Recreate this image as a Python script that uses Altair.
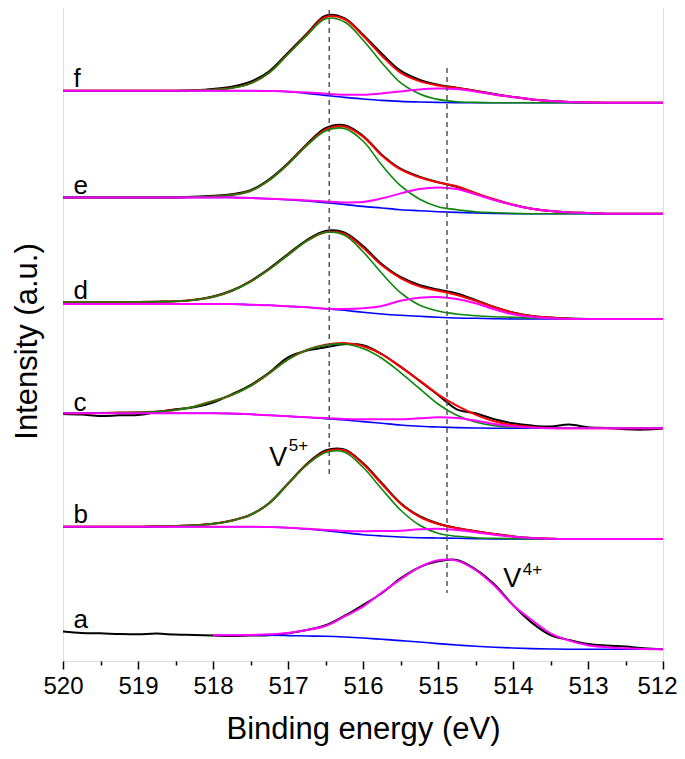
import altair as alt
import pandas as pd

# ---------------- data ----------------
energy = [520, 519.75, 519.5, 519.25, 519, 518.75, 518.5, 518.25, 518, 517.75,
          517.5, 517.25, 517, 516.75, 516.5, 516.25, 516, 515.75, 515.5, 515.25,
          515, 514.75, 514.5, 514.25, 514, 513.75, 513.5, 513.25, 513, 512.75,
          512.5, 512.25, 512]

samples = ["a", "b", "c", "d", "e", "f"]
offsets = [11.7, 122, 232.7, 342, 447.3, 558.3]   # vertical stacking offset (a.u.)

N = None
# raw spectra (black)
raw = {
    "a": [17.7, 16.3, 16, 15.3, 15, 15.7, 14.7, 14.3, 13.7, 13.3, 13.7, 14, 16, 19.3, 24, 33.3,
          44.3, 56, 71, 82, 88, 89.3, 80, 65, 44.3, 26.7, 14.3, 9.3, 5.3, 3.7, 2.7, 1, 0],
    "b": [12.3, 12.3, 12.3, 12.3, 12.3, 12.7, 13, 13.7, 15.3, 18.5, 24.3, 36, 55.5, 75, 88.5, 89.5,
          76, 56, 36, 23, 15.5, 11, 7.7, 5, 2.6, 1, 0.3, 0, 0, 0, 0, 0, 0],
    "c": [14.3, 13.7, 12.3, 13, 13.3, 16.3, 19, 21, 25.7, 34, 43.3, 55.7, 71, 77.7, 81, 84,
          83, 74.3, 61.7, 47.7, 33.3, 19, 15, 9, 5, 2.7, 1.7, 3.7, 1, 0.3, -1, -1.3, -0.3],
    "d": [17, 17, 17, 17, 17, 17.3, 17.7, 19.3, 22.5, 28.5, 38, 50.5, 65, 79, 88, 86.5,
          73, 55, 42, 34, 29.5, 25.5, 19, 12, 6.5, 3, 1.4, 0.5, 0, 0, 0, 0, 0],
    "e": [16.3, 16.3, 16.3, 16.3, 16.3, 16.3, 16.3, 17, 18, 19.5, 23.5, 34.5, 50.5, 69.5, 85.5, 88.5,
          78, 59, 45, 37, 31.5, 27, 20.5, 14, 9, 5, 2.7, 1.3, 0.7, 0, 0, 0, 0],
    "f": [12, 12, 12, 12, 12, 12, 12, 12.5, 13.7, 16, 21, 31.5, 50, 69, 87, 84.5,
          68, 49, 32, 23, 18, 15, 12, 8.7, 5.8, 3.3, 1.7, 0.7, 0.3, 0, 0, 0, 0],
}
# Shirley background (blue)
background = {
    "a": [N, N, N, N, N, N, N, N, 14, 14, 14, 14, 13.7, 13.3, 13, 12.3,
          11.3, 10, 8.7, 7.3, 5.7, 4.3, 3, 2, 1.3, 0.7, 0.3, 0, 0, 0, 0, 0, 0],
    "b": [12.3, 12.3, 12.3, 12.3, 12.3, 12.3, 12.3, 12.3, 12.3, 12.3, 12.3, 12, 11.3, 10, 8.3, 6.3,
          4.3, 3, 2, 1.3, 1, 0.7, 0.3, 0, 0, 0, 0, 0, 0, 0, 0, 0, 0],
    "c": [15, 15, 15, 15, 15, 15, 15, 15, 15, 14.7, 14, 13, 12, 11, 9.7, 8.3,
          6.7, 5, 3.3, 2, 1.3, 0.7, 0.3, 0, 0, 0, 0, 0, 0, 0, 0, 0, 0],
    "d": [15, 15, 15, 15, 15, 15, 15, 15, 15, 15, 14.3, 13.7, 12.7, 11.7, 10.3, 8.7,
          6.7, 5, 3.7, 2.7, 1.7, 1, 0.7, 0.3, 0, 0, 0, 0, 0, 0, 0, 0, 0],
    "e": [16.3, 16.3, 16.3, 16.3, 16.3, 16.3, 16.3, 16.3, 16.3, 16.3, 15.7, 15, 14, 12.7, 11, 9.3,
          7.3, 5.7, 4, 3, 2, 1.3, 0.7, 0.3, 0, 0, 0, 0, 0, 0, 0, 0, 0],
    "f": [12, 12, 12, 12, 12, 12, 12, 12, 12, 12, 12, 11.7, 11, 9.3, 7.3, 5.3,
          3.7, 2.3, 1.3, 0.7, 0.3, 0, 0, 0, 0, 0, 0, 0, 0, 0, 0, 0, 0],
}
# V5+ component incl. background (green)
v5 = {
    "a": None,
    "b": [12.3, 12.3, 12.3, 12.3, 12.3, 12.7, 13, 13.7, 15.3, 18.3, 24, 35.7, 55, 74, 86.5, 87,
          71.7, 50, 29, 14, 5.7, 2.7, 1.3, 0.7, 0.3, 0, 0, 0, 0, 0, 0, 0, 0],
    "c": [15, 15, 15.3, 15.7, 16, 16.7, 18.3, 21.7, 27.3, 33.3, 42.3, 55, 69, 78.3, 83, 84.3,
          79.7, 70, 55.7, 40, 24.3, 13, 6.3, 2.7, 1.3, 0.7, 0.3, 0, 0, 0, 0, 0, 0],
    "d": [17, 17, 17, 17, 17, 17.3, 17.7, 19, 22, 28, 37.3, 49.7, 64, 78, 86.7, 84,
          67.3, 45.7, 26.3, 14, 8, 5, 3.3, 2.3, 1.7, 1, 0.7, 0.3, 0, 0, 0, 0, 0],
    "e": [16.3, 16.3, 16.3, 16.3, 16.3, 16.3, 16.3, 16.7, 17.3, 18.7, 22.7, 33.5, 49.3, 68, 82.7, 85.3,
          72.7, 48.7, 28, 14.7, 7, 4, 2, 1, 0.3, 0, 0, 0, 0, 0, 0, 0, 0],
    "f": [12, 12, 12, 12, 12, 12, 12, 12.3, 13, 14.7, 19.3, 30, 48.5, 67, 84, 81,
          62.7, 40, 20, 9, 3.3, 1, 0.3, 0, 0, 0, 0, 0, 0, 0, 0, 0, 0],
}
# V4+ component incl. background (magenta)
v4 = {
    "a": [N, N, N, N, N, N, N, N, 14, 14, 14.3, 15, 16.3, 19.3, 23.3, 32.7,
          42.7, 56.7, 70, 82, 89, 88.7, 79.3, 63.7, 44, 29.3, 16, 8.7, 4, 2, 1, 0.3, 0],
    "b": [12.3, 12.3, 12.3, 12.3, 12.3, 12.3, 12.3, 12.3, 12.3, 12.3, 12.3, 12, 11.3, 10.3, 9, 8,
          7.7, 8, 8.3, 9.7, 10.3, 9, 6.7, 4.3, 2.3, 1, 0.3, 0, 0, 0, 0, 0, 0],
    "c": [15, 15, 15, 15, 15, 15, 15, 15, 15, 14.7, 14, 13, 12, 11, 10.3, 9.3,
          9, 9, 9, 10, 11, 10.3, 7.7, 4.3, 2, 0.7, 0, 0, 0, 0, 0, 0, 0],
    "d": [15, 15, 15, 15, 15, 15, 15, 15, 15, 15, 14.3, 13.7, 12.7, 11.7, 10.3, 10,
          10.7, 13, 18.3, 21.3, 22, 20, 15.7, 9.7, 4.7, 2, 0.7, 0, 0, 0, 0, 0, 0],
    "e": [16.3, 16.3, 16.3, 16.3, 16.3, 16.3, 16.3, 16.3, 16.3, 16.3, 15.7, 15, 14.3, 13.3, 12.3, 11.3,
          11.7, 15.3, 20.3, 24.7, 26.3, 24.7, 19.3, 13.7, 8.7, 5, 2.7, 1.3, 0.7, 0, 0, 0, 0],
    "f": [12, 12, 12, 12, 12, 12, 12, 12, 12, 12, 12, 11.7, 11.3, 10.3, 9, 8,
          8, 9.3, 11.3, 13.3, 14.3, 13.7, 11.3, 8.3, 5.7, 3.3, 1.7, 0.7, 0.3, 0, 0, 0, 0],
}

# reference dashed lines (eV, top, bottom in a.u.)
dash_energy = [516.45, 514.88]
dash_top = [651, 593]
dash_bottom = [183, 68]

# oxidation-state annotations
ann_text = ["V", "5+", "V", "4+"]
ann_energy = [517.25, 516.99, 514.13, 513.87]
ann_intensity = [195, 210, 74, 86]
ann_size = ["big", "small", "big", "small"]

all_ticks = [520, 519.5, 519, 518.5, 518, 517.5, 517, 516.5, 516, 515.5, 515,
             514.5, 514, 513.5, 513, 512.5, 512]

# ---------------- build long table ----------------
rows = []
for s, off in zip(samples, offsets):
    curves = {"raw": raw[s], "bg": background[s], "v4": v4[s]}
    if v5[s] is not None:
        curves["v5"] = v5[s]
        curves["fit"] = [a + b - c for a, b, c in zip(v5[s], v4[s], background[s])]
    for name, vals in curves.items():
        for e, v in zip(energy, vals):
            if v is None:
                continue
            rows.append({"energy": e, "intensity": off + v, "curve": name, "sample": s})
df = pd.DataFrame(rows)

labels_df = pd.DataFrame({
    "sample": samples,
    "x": [519.86] * len(samples),
    "y": [off + raw[s][0] + 3.5 for s, off in zip(samples, offsets)],
})
dash_df = pd.DataFrame({"x": dash_energy, "y1": dash_top, "y2": dash_bottom})
ann_df = pd.DataFrame({"t": ann_text, "x": ann_energy, "y": ann_intensity, "size": ann_size})

FONT = "Liberation Sans"
xs = alt.Scale(domain=[520, 512], nice=False, zero=False)
ys = alt.Scale(domain=[0, 660], nice=False, zero=False)

x_main = alt.X(
    "energy:Q", scale=xs,
    axis=alt.Axis(
        values=all_ticks,
        labelExpr="datum.value % 1 === 0 ? format(datum.value, 'd') : ''",
        tickSize={"condition": {"test": "datum.value % 1 === 0", "value": 8}, "value": 4},
        labelAlign={"condition": {"test": "datum.value === 512", "value": "right"}, "value": "center"},
        labelOffset={"condition": {"test": "datum.value === 512", "value": 14}, "value": 0},
        tickWidth=1.5, tickColor="black",
        labelFontSize=24, labelColor="black", labelPadding=5, labelFont=FONT,
        labelOverlap=False, labelFlush=False,
        title="Binding energy (eV)", titleFontSize=31, titleFontWeight="normal",
        titleColor="black", titlePadding=16, titleFont=FONT,
        domain=False, grid=False,
    ),
)
y_main = alt.Y(
    "intensity:Q", scale=ys,
    axis=alt.Axis(
        title="Intensity (a.u.)", labels=False, ticks=False, domain=False, grid=False,
        titleFontSize=31, titleFontWeight="normal", titleColor="black",
        titlePadding=20, titleFont=FONT, titleY=340,
    ),
)
x_plain = alt.X("energy:Q", scale=xs, axis=None)
y_plain = alt.Y("intensity:Q", scale=ys, axis=None)


def curve_layer(name, color, width, with_axes=False):
    return alt.Chart(df).transform_filter(alt.datum.curve == name).mark_line(
        color=color, strokeWidth=width, interpolate="catmull-rom"
    ).encode(
        x=x_main if with_axes else x_plain,
        y=y_main if with_axes else y_plain,
        detail="sample:N",
        order="energy:Q",
    )


raw_layer = curve_layer("raw", "#000000", 2, with_axes=True)
fit_layer = curve_layer("fit", "#ff0000", 2)
bg_layer = curve_layer("bg", "#0000ff", 1.6)
v5_layer = curve_layer("v5", "#0a870a", 1.6)
v4_layer = curve_layer("v4", "#ff00ff", 2)

dash_layer = alt.Chart(dash_df).mark_rule(
    color="#555555", strokeWidth=1.5, strokeDash=[5, 4]
).encode(
    x=alt.X("x:Q", scale=xs, axis=None),
    y=alt.Y("y1:Q", scale=ys, axis=None),
    y2="y2:Q",
)

label_layer = alt.Chart(labels_df).mark_text(
    align="left", baseline="alphabetic", fontSize=26, font=FONT, color="black"
).encode(
    x=alt.X("x:Q", scale=xs, axis=None),
    y=alt.Y("y:Q", scale=ys, axis=None),
    text="sample:N",
)

ann_big = alt.Chart(ann_df).transform_filter(alt.datum.size == "big").mark_text(
    align="left", baseline="alphabetic", fontSize=27, font=FONT, color="black"
).encode(
    x=alt.X("x:Q", scale=xs, axis=None),
    y=alt.Y("y:Q", scale=ys, axis=None),
    text="t:N",
)
ann_small = alt.Chart(ann_df).transform_filter(alt.datum.size == "small").mark_text(
    align="left", baseline="alphabetic", fontSize=17, font=FONT, color="black"
).encode(
    x=alt.X("x:Q", scale=xs, axis=None),
    y=alt.Y("y:Q", scale=ys, axis=None),
    text="t:N",
)

chart = alt.layer(
    raw_layer, fit_layer, bg_layer, v5_layer, v4_layer,
    dash_layer, label_layer, ann_big, ann_small,
).resolve_axis(x="independent", y="independent").properties(
    width=600, height=660,
    autosize=alt.AutoSizeParams(type="none"),
    padding={"left": 55, "top": -7, "right": 14, "bottom": 85},
).configure_view(
    stroke="black", strokeWidth=2,
).configure(font=FONT)

chart.save("out.html", embed_options={"renderer": "svg", "actions": False})
